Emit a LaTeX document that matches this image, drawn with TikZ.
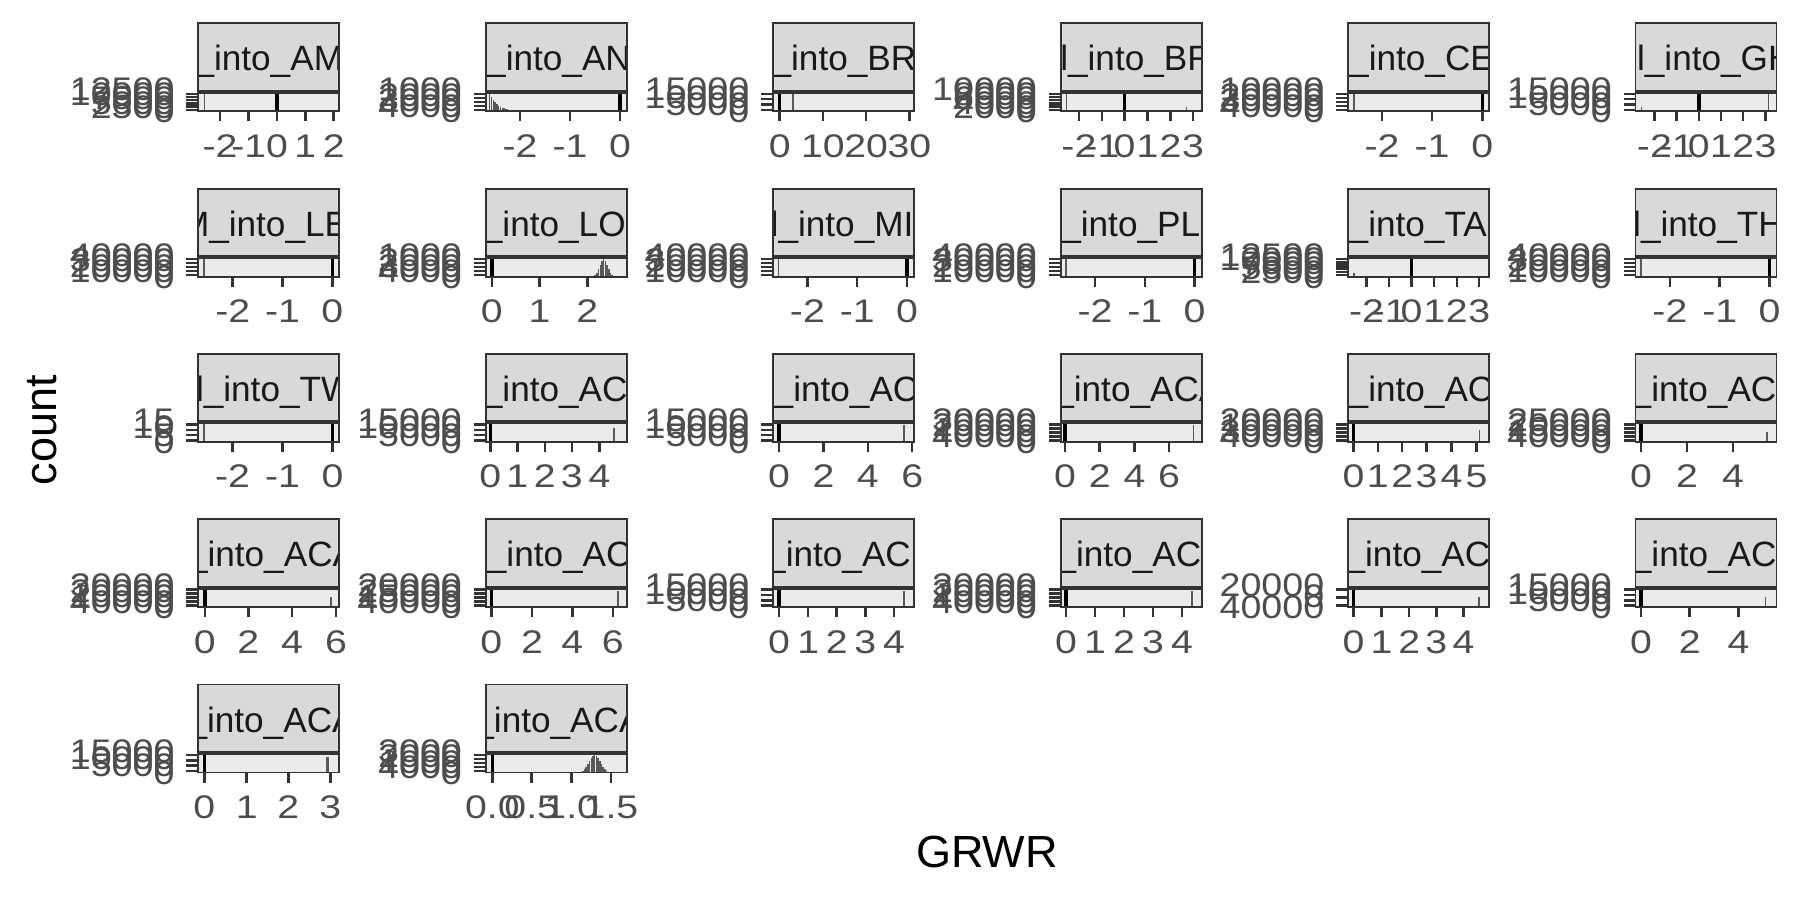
\documentclass[tikz,border=0pt]{standalone}
\usepackage{fontspec}
\setmainfont{Liberation Sans}

\definecolor{stripgrey}{HTML}{D9D9D9}
\definecolor{panelgrey}{HTML}{EBEBEB}
\definecolor{framegrey}{HTML}{333333}
\definecolor{textgrey}{HTML}{4D4D4D}
\definecolor{histgrey}{HTML}{595959}

\tikzset{
  panelbox/.style={fill=panelgrey, draw=framegrey, line width=0.55pt},
  stripbox/.style={draw=framegrey, line width=0.55pt},
  striptext/.style={anchor=base west, inner sep=0pt, text=black!90, font=\fontsize{10}{11}\selectfont},
  ticklab/.style={anchor=base, inner sep=0pt, xscale=1.2, text=textgrey, font=\fontsize{9.3}{10}\selectfont},
  ylab/.style={anchor=base east, inner sep=0pt, xscale=1.15, text=textgrey, font=\fontsize{9.3}{10}\selectfont},
  tickmark/.style={draw=framegrey, line width=0.7pt},
  zeroline/.style={draw=black, line width=1pt},
  histbar/.style={draw=histgrey, line width=0.45pt},
  axistitle/.style={inner sep=0pt, text=black, font=\fontsize{12.8}{14}\selectfont},
}

% #1 id, #2/#3 top left, #4 strip text, #5 text start, #6 x ticks, #7 zero, #8 y labels, #9 bars
\newcommand{\facet}[9]{%
  \begin{scope}[shift={(#2,#3)}]
    \draw[panelbox] (0,69.5) rectangle (141,88);
    #9
    \draw[zeroline] (#7,69.5) -- (#7,88);
    \draw[panelbox, fill=none] (0,69.5) rectangle (141,88);
    \begin{scope}
      \clip (0,0) rectangle (141,67.5);
      \fill[stripgrey] (0,0) rectangle (141,67.5);
      \node[striptext] (s#1) at (#5,47.5) {#4};
    \end{scope}
    \draw[stripbox] (0,0) rectangle (141,67.5);
    \foreach \pos/\lab [count=\k] in {#6}{
      \draw[tickmark] (\pos,88) -- (\pos,98);
      \node[ticklab] (x#1-\k) at (\pos,134) {\lab};
    }
    \foreach \lab [count=\k] in {#8}{\xdef\nlab{\k}}
    \foreach \lab [count=\k] in {#8}{
      \draw[tickmark] (-12,{70.5+(\k-1)*16/(\nlab-1)}) -- (-1,{70.5+(\k-1)*16/(\nlab-1)});
      \node[ylab] (y#1-\k) at (-23,{77.5+(\k-1)*22/(\nlab-1)}) {\lab};
    }
  \end{scope}}

\begin{document}
\begin{tikzpicture}[x=0.01cm, y=-0.01cm]
\useasboundingbox (0,0) rectangle (1800,900);

% row 1
\facet{1}{198.3}{23.3}{\_into\_AM}{-4.5}{21.7/-2,50.4/-1,78.7/0,107/1,135.4/2}{78.7}
  {12500,10000,7500,5000,2500,0}{\draw[histbar] (6,70) -- (6,88);}
\facet{2}{485.7}{23.3}{\_into\_AN}{-0.2}{34.3/-2,84.3/-1,134.3/0}{134.3}
  {1000,2000,3000,4000,0}{\foreach \i in {0,...,16} \draw[histbar] ({4+1.8*\i},88) -- ++(0,{-17.5*exp(-\i/4.5)});}
\facet{3}{773}{23.3}{\_into\_BR}{-2.1}{6.7/0,49.9/10,93.2/20,136.4/30}{6.7}
  {15000,10000,5000,0}{\draw[histbar] (20,70) -- (20,88);}
\facet{4}{1060.6}{23.3}{l\_into\_BR}{-1}{18.3/-2,41.3/-1,63.9/0,86.8/1,109.8/2,132.4/3}{63.9}
  {10000,8000,6000,4000,2000,0}{\draw[histbar] (5.7,70) -- (5.7,88); \draw[histbar] (126,88) -- (126,84);}
\facet{5}{1348}{23.3}{\_into\_CE}{0.5}{34/-2,84/-1,134.3/0}{134.3}
  {10000,20000,30000,40000,0}{\draw[histbar] (6,70) -- (6,88);}
\facet{6}{1635.5}{23.3}{l\_into\_GH}{0.9}{18.9/-2,41.1/-1,63.3/0,85.5/1,107.7/2,129.9/3}{63.3}
  {15000,10000,5000,0}{\draw[histbar] (6,84) -- (6,88); \draw[histbar] (133,70) -- (133,88);}

% row 2
\facet{7}{198.3}{188.6}{M\_into\_LE}{-19}{34.4/-2,84.2/-1,134/0}{134}
  {40000,30000,20000,10000,0}{\draw[histbar] (5.5,70) -- (5.5,88);}
\facet{8}{485.7}{188.6}{\_into\_LO}{-3.5}{6.2/0,53.9/1,101.6/2}{6.2}
  {1000,2000,3000,4000,0}{\foreach \i in {-6,...,6} \draw[histbar] ({118+1.7*\i},88) -- ++(0,{-17.5*exp(-(\i)^2/10)});}
\facet{9}{773}{188.6}{l\_into\_MI}{-3}{34.4/-2,84.2/-1,134/0}{134}
  {40000,30000,20000,10000,0}{\draw[histbar] (5.5,70) -- (5.5,88);}
\facet{10}{1060.6}{188.6}{\_into\_PL}{0}{34.4/-2,84.2/-1,134/0}{134}
  {40000,30000,20000,10000,0}{\draw[histbar] (5.5,70) -- (5.5,88);}
\facet{11}{1348}{188.6}{\_into\_TA}{0}{18.6/-2,41.2/-1,63.6/0,86.2/1,108.8/2,131.2/3}{63.6}
  {12500,10000,7500,5000,2500,0}{\draw[histbar] (6,84) -- (6,88);}
\facet{12}{1635.5}{188.6}{l\_into\_TH}{-3}{34.4/-2,84.2/-1,134/0}{134}
  {40000,30000,20000,10000,0}{\draw[histbar] (5.5,70) -- (5.5,88);}

% row 3
\facet{13}{198.3}{353.9}{l\_into\_TW}{-3}{34.2/-2,84.2/-1,134.2/0}{134.2}
  {15,10,5,0}{\draw[histbar] (5.5,70) -- (5.5,88);}
\facet{14}{485.7}{353.9}{\_into\_AC}{-3.5}{4.6/0,31.6/1,59.2/2,86.2/3,113.8/4}{4.6}
  {15000,10000,5000,0}{\draw[histbar] (128,74) -- (128,88);}
\facet{15}{773}{353.9}{\_into\_AC}{0}{6/0,50.5/2,94.9/4,139.2/6}{6}
  {15000,10000,5000,0}{\draw[histbar] (131,71) -- (131,88);}
\facet{16}{1060.6}{353.9}{\_into\_ACA}{-7}{4.4/0,39.1/2,73.8/4,108.5/6}{4.4}
  {30000,20000,10000,40000,0}{\draw[histbar] (133,71) -- (133,88);}
\facet{17}{1348}{353.9}{\_into\_AC}{0}{5.4/0,29.8/1,54.2/2,78.6/3,103.5/4,128.4/5}{5.4}
  {20000,10000,30000,40000,0}{\draw[histbar] (131.6,76) -- (131.6,88);}
\facet{18}{1635.5}{353.9}{\_into\_ACA}{-4.5}{5.4/0,51.5/2,97.6/4}{5.4}
  {25000,20000,15000,40000,0}{\draw[histbar] (131.4,78) -- (131.4,88);}

% row 4
\facet{19}{198.3}{519.2}{\_into\_ACA}{-11}{6.6/0,50/2,93.8/4,137.7/6}{6.6}
  {30000,20000,10000,40000,0}{\draw[histbar] (132.5,78) -- (132.5,88);}
\facet{20}{485.7}{519.2}{\_into\_AC}{0.5}{5.6/0,46.4/2,86.7/4,127.1/6}{5.6}
  {20000,25000,15000,40000,0}{\draw[histbar] (132.3,72) -- (132.3,88);}
\facet{21}{773}{519.2}{\_into\_AC}{-7.5}{6/0,35.2/1,63.7/2,92.3/3,120.9/4}{6}
  {15000,10000,5000,0}{\draw[histbar] (131,72) -- (131,88);}
\facet{22}{1060.6}{519.2}{\_into\_AC}{-4.8}{5.5/0,34.3/1,63.5/2,92.3/3,121.5/4}{5.5}
  {30000,20000,10000,40000,0}{\draw[histbar] (131.3,72) -- (131.3,88);}
\facet{23}{1348}{519.2}{\_into\_AC}{-3.1}{5.4/0,33.6/1,61.2/2,88.3/3,115.4/4}{5.4}
  {20000,0,40000}{\draw[histbar] (131.1,78) -- (131.1,88);}
\facet{24}{1635.5}{519.2}{\_into\_AC}{-4.3}{5.4/0,54.2/2,103/4}{5.4}
  {15000,10000,5000,0}{\draw[histbar] (130.1,78) -- (130.1,88);}

% row 5
\facet{25}{198.3}{684.5}{\_into\_ACA}{-11.5}{6/0,48.4/1,90/2,132/3}{6}
  {15000,10000,5000,0}{\draw[histbar, line width=0.8pt] (129.4,72) -- (129.4,88);}
\facet{26}{485.7}{684.5}{\_into\_ACA}{-12}{6.6/0.0,46/0.5,86/1.0,125.3/1.5}{6.6}
  {3000,2000,1000,4000,0}{\foreach \i in {-9,...,9} \draw[histbar] ({109+1.7*\i},88) -- ++(0,{-17.5*exp(-(\i)^2/22)});}

% axis titles
\node[axistitle] (xtitle) at (987,852) {GRWR};
\node[axistitle, rotate=90] (ytitle) at (42,430) {count};
\end{tikzpicture}
\end{document}
